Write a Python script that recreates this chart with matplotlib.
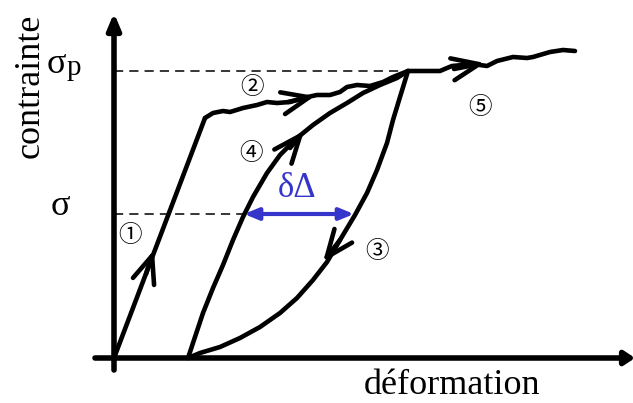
import matplotlib
matplotlib.use("Agg")
import matplotlib.pyplot as plt

# ---- data (strain, stress) in schematic units ----
load1_x = [0, 91]
load1_y = [0, 240]

plateau2_x = [91, 99, 109, 116, 129, 143, 153, 163, 176, 189, 203, 216, 226, 233, 243, 256, 269, 279, 294]
plateau2_y = [240, 245, 247, 246, 250, 253, 256, 255, 256, 260, 263, 263, 266, 271, 273, 272, 276, 281, 287]

unload3_x = [294, 286, 279, 273, 263, 253, 241, 226, 213, 199, 183, 166, 146, 126, 106, 86, 74]
unload3_y = [287, 261, 238, 215, 188, 165, 143, 118, 96, 78, 60, 45, 31, 20, 11, 5, 0]

reload4_x = [74, 81, 89, 99, 109, 119, 129, 139, 153, 166, 183, 199, 216, 233, 249, 266, 283, 294]
reload4_y = [0, 21, 45, 70, 93, 118, 141, 161, 185, 203, 220, 233, 245, 255, 265, 273, 280, 287]

plateau5_x = [294, 326, 333, 338, 359, 373, 383, 399, 413, 419, 436, 449, 461]
plateau5_y = [287, 287, 290, 292, 294, 292, 297, 301, 300, 301, 306, 308, 307]

sigma_p = 287
sigma = 144
delta_left, delta_right = 130, 240

# arrow heads: (tail, tip) pairs along the curves
arrows = [((32, 84), (40, 108)),      # 1
          ((174, 256), (201, 262)),   # 2
          ((226, 118), (209, 96)),    # 3
          ((176, 210), (190, 227)),   # 4
          ((340, 289), (371, 295))]   # 5

labels = ["\u2460", "\u2461", "\u2462", "\u2463", "\u2464"]
label_x = [16, 138, 263, 137, 366]
label_y = [123, 270, 106, 205, 251]

serif = "Liberation Serif"

fig = plt.figure(figsize=(6.33, 4.03), dpi=100)
ax = fig.add_axes([0, 0, 1, 1])
ax.set_xlim(-114, 519)
ax.set_ylim(-45, 358)
ax.axis("off")

# axes arrows
ax.annotate("", xy=(0, 345), xytext=(0, -12), annotation_clip=False,
            arrowprops=dict(arrowstyle="-|>,head_length=0.95,head_width=0.4",
                            mutation_scale=10, lw=4, color="k",
                            shrinkA=0, shrinkB=0))
ax.annotate("", xy=(521, 0), xytext=(-19, 0), annotation_clip=False,
            arrowprops=dict(arrowstyle="-|>,head_length=0.6,head_width=0.4",
                            mutation_scale=10, lw=4, color="k",
                            shrinkA=0, shrinkB=0))

# dashed reference lines
ax.plot([0, 294], [sigma_p, sigma_p], ls=(0, (6, 4)), lw=1.1, color="k")
ax.plot([0, delta_left], [sigma, sigma], ls=(0, (6, 4)), lw=1.1, color="k")

kw = dict(color="k", lw=3.3, solid_joinstyle="round", solid_capstyle="round")
for xs, ys in [(load1_x, load1_y), (plateau2_x, plateau2_y), (unload3_x, unload3_y),
               (reload4_x, reload4_y), (plateau5_x, plateau5_y)]:
    ax.plot(xs, ys, **kw)

for tail, tip in arrows:
    ax.annotate("", xy=tip, xytext=tail,
                arrowprops=dict(arrowstyle="->,head_length=1.95,head_width=0.8",
                                mutation_scale=10, lw=3.3, color="k",
                                shrinkA=0, shrinkB=0))

# delta arrow
blue = "#3535cc"
ax.annotate("", xy=(delta_right, sigma), xytext=(delta_left, sigma),
            arrowprops=dict(arrowstyle="<|-|>,head_length=0.85,head_width=0.35",
                            mutation_scale=10, lw=3, color=blue,
                            shrinkA=0, shrinkB=0))
ax.text(183, 161, "\u03b4\u0394", color=blue, fontsize=25, family=serif,
        ha="center", va="baseline")

for t, x, y in zip(labels, label_x, label_y):
    ax.text(x, y, t, fontsize=17, family=["Noto Sans CJK JP", "DejaVu Sans"],
            ha="center", va="center", color="black")

ax.text(-84, 272, "contrainte", rotation=90, fontsize=26, family=serif,
        ha="center", va="center")
ax.text(338, -36, "d\u00e9formation", fontsize=26, family=serif,
        ha="center", va="baseline")
ax.text(-58, 285, "\u03c3", fontsize=26, family=serif, ha="center", va="baseline")
ax.text(-47, 283, "p", fontsize=21, family=serif, ha="left", va="baseline")
ax.text(-54, 143, "\u03c3", fontsize=26, family=serif, ha="center", va="baseline")

fig.savefig("out.png", dpi=100)
